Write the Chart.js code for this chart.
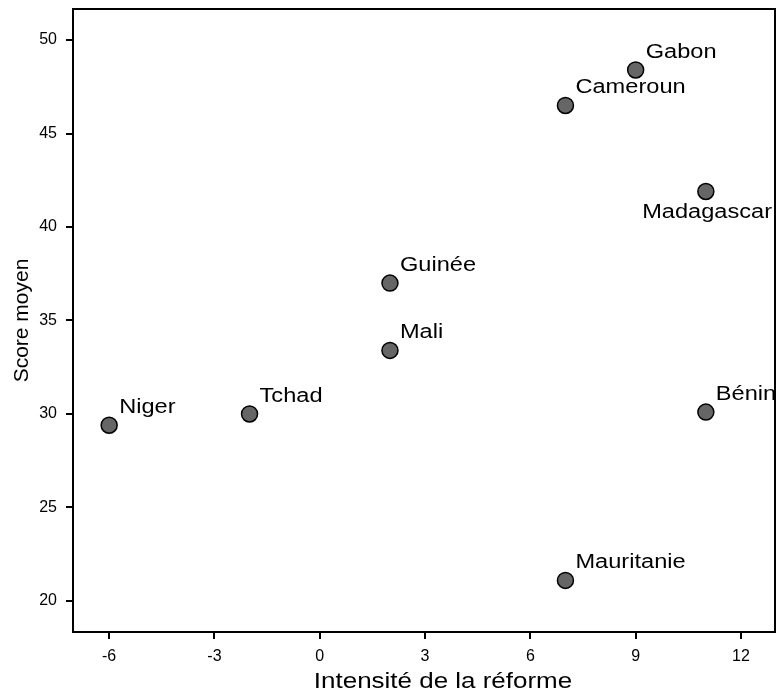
<!DOCTYPE html>
<html lang="fr">
<head>
    <meta charset="UTF-8">
    <script src="https://cdn.jsdelivr.net/npm/chart.js"></script>
    <title>Score moyen et intensité de la réforme</title>
    <style>
        body { margin: 0; background: #fff; }
    </style>
</head>
<body>
<canvas id="scatter" width="777" height="694"></canvas>
<script>
    // données
    var pays = ['Niger', 'Tchad', 'Guinée', 'Mali', 'Cameroun', 'Gabon', 'Madagascar', 'Bénin', 'Mauritanie'];
    var intensite = [-6, -2, 2, 2, 7, 9, 11, 11, 7];
    var score = [29.4, 30.0, 37.0, 33.4, 46.5, 48.4, 41.9, 30.1, 21.1];
    var xTicks = [-6, -3, 0, 3, 6, 9, 12];
    var yTicks = [20, 25, 30, 35, 40, 45, 50];

    var points = intensite.map(function (x, i) {
        return { x: x, y: score[i] };
    });

    var fontFamily = '"Liberation Sans", Arial, sans-serif';
    var stretch = 1.18; // le texte de la figure d'origine est un peu élargi

    function wideText(ctx, txt, x, y, align) {
        var w = ctx.measureText(txt).width * stretch;
        var x0 = align === 'right' ? x - w : (align === 'center' ? x - w / 2 : x);
        ctx.save();
        ctx.translate(x0, y);
        ctx.scale(stretch, 1);
        ctx.textAlign = 'left';
        ctx.fillText(txt, 0, 0);
        ctx.restore();
    }

    // étiquettes des pays, titres des axes et cadre
    var labelPlugin = {
        id: 'labels',
        afterDatasetsDraw: function (chart) {
            var ctx = chart.ctx;
            var xs = chart.scales.x, ys = chart.scales.y;
            var a = chart.chartArea;
            ctx.save();
            ctx.fillStyle = '#000';
            ctx.textBaseline = 'alphabetic';
            ctx.font = '20px ' + fontFamily;
            pays.forEach(function (nom, i) {
                var px = xs.getPixelForValue(intensite[i]);
                var py = ys.getPixelForValue(score[i]);
                if (nom === 'Madagascar') {
                    wideText(ctx, nom, a.right - 3, py + 27, 'right');
                } else {
                    wideText(ctx, nom, px + 10, py - 12, 'left');
                }
            });

            ctx.font = '22px ' + fontFamily;
            wideText(ctx, 'Intensité de la réforme', 443, 688, 'center');

            ctx.font = '21px ' + fontFamily;
            ctx.save();
            ctx.translate(28, (a.top + a.bottom) / 2);
            ctx.rotate(-Math.PI / 2);
            ctx.textAlign = 'center';
            ctx.fillText('Score moyen', 0, 0);
            ctx.restore();

            ctx.strokeStyle = '#000';
            ctx.lineWidth = 2;
            ctx.strokeRect(a.left, a.top, a.right - a.left, a.bottom - a.top);
            ctx.restore();
        }
    };

    new Chart(document.getElementById('scatter'), {
        type: 'scatter',
        data: {
            datasets: [{
                data: points,
                backgroundColor: '#666666',
                borderColor: '#000000',
                borderWidth: 1.5,
                pointRadius: 8,
                pointHoverRadius: 8
            }]
        },
        options: {
            responsive: false,
            animation: false,
            layout: { autoPadding: false, padding: { top: 9, right: 2, left: 0, bottom: 0 } },
            plugins: {
                legend: { display: false },
                tooltip: { enabled: false }
            },
            scales: {
                x: {
                    type: 'linear',
                    min: -7.03,
                    max: 12.97,
                    afterBuildTicks: function (axis) {
                        axis.ticks = xTicks.map(function (v) { return { value: v }; });
                    },
                    afterFit: function (axis) {
                        axis.height = 62;
                        axis.paddingLeft = 0;
                        axis.paddingRight = 0;
                    },
                    grid: { drawOnChartArea: false, drawTicks: true, tickLength: 7, color: '#000', lineWidth: 2 },
                    border: { display: true, color: '#000', width: 2 },
                    ticks: { color: '#000', font: { size: 16, family: fontFamily }, padding: 8 }
                },
                y: {
                    type: 'linear',
                    min: 18.34,
                    max: 51.66,
                    afterBuildTicks: function (axis) {
                        axis.ticks = yTicks.map(function (v) { return { value: v }; });
                    },
                    afterFit: function (axis) {
                        axis.width = 73;
                        axis.paddingTop = 0;
                        axis.paddingBottom = 0;
                    },
                    grid: { drawOnChartArea: false, drawTicks: true, tickLength: 7, color: '#000', lineWidth: 2 },
                    border: { display: true, color: '#000', width: 2 },
                    ticks: { color: '#000', font: { size: 16, family: fontFamily }, padding: 9 }
                }
            }
        },
        plugins: [labelPlugin]
    });
</script>
</body>
</html>
